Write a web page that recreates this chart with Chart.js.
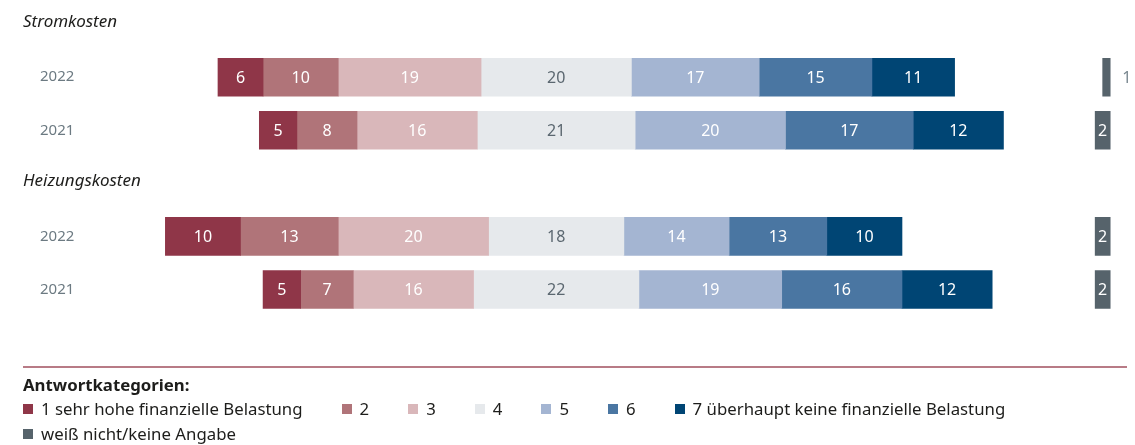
<!DOCTYPE html>
<html lang="de">
<head>
<meta charset="utf-8">
<title>Stromkosten / Heizungskosten</title>
<script src="https://cdn.jsdelivr.net/npm/chart.js@4.4.1/dist/chart.umd.min.js"></script>
<style>
  html, body { margin: 0; padding: 0; background: #fff; }
  #wrap { position: relative; width: 1135px; height: 445px; font-family: 'Noto Sans', sans-serif; }
  #wrap canvas { position: absolute; left: 0; top: 0; }
  #rule { position: absolute; left: 23px; top: 366px; width: 1104px; height: 2px; background: #b87b86; }
  #legend { position: absolute; left: 23px; top: 373px; width: 1110px; color: #1d1d1b; font-size: 16.8px; }
  #legend .title { font-weight: bold; line-height: 23px; }
  #legend .row { display: flex; align-items: center; height: 25px; }
  #legend .item { display: flex; align-items: center; margin-right: 39px; }
  #legend .box { width: 10px; height: 10px; margin-right: 8px; }
</style>
</head>
<body>
<div id="wrap">
  <canvas id="chart"></canvas>
  <div id="rule"></div>
  <div id="legend"></div>
</div>
<script>
// ── Data ─────────────────────────────────────────────────────
const rowLabels     = ['2022', '2021', '', '2022', '2021'];
const groupHeadings = ['Stromkosten', 'Heizungskosten'];
const groupStarts   = [0, 3];

const cat1 = [6, 5, null, 10, 5];
const cat2 = [10, 8, null, 13, 7];
const cat3 = [19, 16, null, 20, 16];
const cat4 = [20, 21, null, 18, 22];
const cat5 = [17, 20, null, 14, 19];
const cat6 = [15, 17, null, 13, 16];
const cat7 = [11, 12, null, 10, 12];
const noAnswer = [1, 2, null, 2, 2];

const categoryLabels = [
  '1 sehr hohe finanzielle Belastung', '2', '3', '4', '5', '6',
  '7 überhaupt keine finanzielle Belastung', 'weiß nicht/keine Angabe'
];

const COLORS = ['#8f3648', '#b07479', '#d9b7ba', '#e6e9ec', '#a4b5d2', '#4a76a2', '#004574', '#56636b'];
const LABEL_COLORS = ['#fff', '#fff', '#fff', '#5b6770', '#fff', '#fff', '#fff', '#fff'];
const NA_END = 73.7; // right edge of the "weiß nicht" column

// ── Build floating segments centred on category 4 ───────────
const cats = [cat1, cat2, cat3, cat4, cat5, cat6, cat7];
const segments = cats.map(() => []);
rowLabels.forEach((_, r) => {
  if (cat1[r] === null) { segments.forEach(s => s.push(null)); return; }
  let pos = -(cat1[r] + cat2[r] + cat3[r] + cat4[r] / 2);
  cats.forEach((c, k) => {
    segments[k].push([pos, pos + c[r]]);
    pos += c[r];
  });
});
const naSegments = noAnswer.map(v => v === null ? null : [NA_END - v, NA_END]);

const datasets = segments.map((data, k) => ({
  label: categoryLabels[k],
  data,
  raw: cats[k],
  backgroundColor: COLORS[k],
  labelColor: LABEL_COLORS[k],
}));
datasets.push({
  label: categoryLabels[7],
  data: naSegments,
  raw: noAnswer,
  backgroundColor: COLORS[7],
  labelColor: '#fff',
  outsideSmall: true,
});

// ── Plugin: row labels, headings and bar values ─────────────
const textPlugin = {
  id: 'texts',
  afterDatasetsDraw(chart) {
    const { ctx } = chart;
    const y = chart.scales.y;
    const band = y.getPixelForValue(1) - y.getPixelForValue(0);
    ctx.save();
    ctx.textBaseline = 'middle';

    // year labels
    ctx.font = '15px "Noto Sans"';
    ctx.fillStyle = '#6c7a82';
    ctx.textAlign = 'left';
    rowLabels.forEach((lab, i) => {
      if (lab) ctx.fillText(lab, 40, y.getPixelForValue(i));
    });

    // group headings
    ctx.font = 'italic 17px "Noto Sans"';
    ctx.fillStyle = '#1d1d1b';
    groupHeadings.forEach((h, i) => {
      ctx.fillText(h, 23, y.getPixelForValue(groupStarts[i]) - band - 2);
    });

    // values inside bars
    ctx.font = '16px "Noto Sans"';
    ctx.textAlign = 'center';
    chart.data.datasets.forEach((ds, di) => {
      const meta = chart.getDatasetMeta(di);
      meta.data.forEach((bar, i) => {
        const v = ds.raw[i];
        if (v === null || v === undefined) return;
        const w = Math.abs(bar.x - bar.base);
        if (ds.outsideSmall && w < 12) {
          ctx.textAlign = 'left';
          ctx.fillStyle = '#7a8890';
          ctx.fillText(String(v), Math.max(bar.x, bar.base) + 12, bar.y + 1);
          ctx.textAlign = 'center';
        } else {
          ctx.fillStyle = ds.labelColor;
          ctx.fillText(String(v), (bar.x + bar.base) / 2, bar.y + 1);
        }
      });
    });
    ctx.restore();
  }
};

new Chart(document.getElementById('chart'), {
  type: 'bar',
  data: { labels: rowLabels, datasets },
  options: {
    indexAxis: 'y',
    responsive: true,
    maintainAspectRatio: false,
    animation: false,
    grouped: false,
    barThickness: 38,
    borderWidth: 0,
    layout: { padding: { top: 50.7, bottom: 129, left: 0, right: 0 } },
    plugins: { legend: { display: false }, tooltip: { enabled: false } },
    scales: {
      x: { display: false, min: -74, max: 77 },
      y: { display: false }
    }
  },
  plugins: [textPlugin]
});

// ── HTML legend ─────────────────────────────────────────────
const legend = document.getElementById('legend');
const item = (k) => `<span class="item"><span class="box" style="background:${COLORS[k]}"></span>${categoryLabels[k]}</span>`;
legend.innerHTML =
  '<div class="title">Antwortkategorien:</div>' +
  '<div class="row">' + [0, 1, 2, 3, 4, 5, 6].map(item).join('') + '</div>' +
  '<div class="row">' + item(7) + '</div>';
</script>
</body>
</html>
